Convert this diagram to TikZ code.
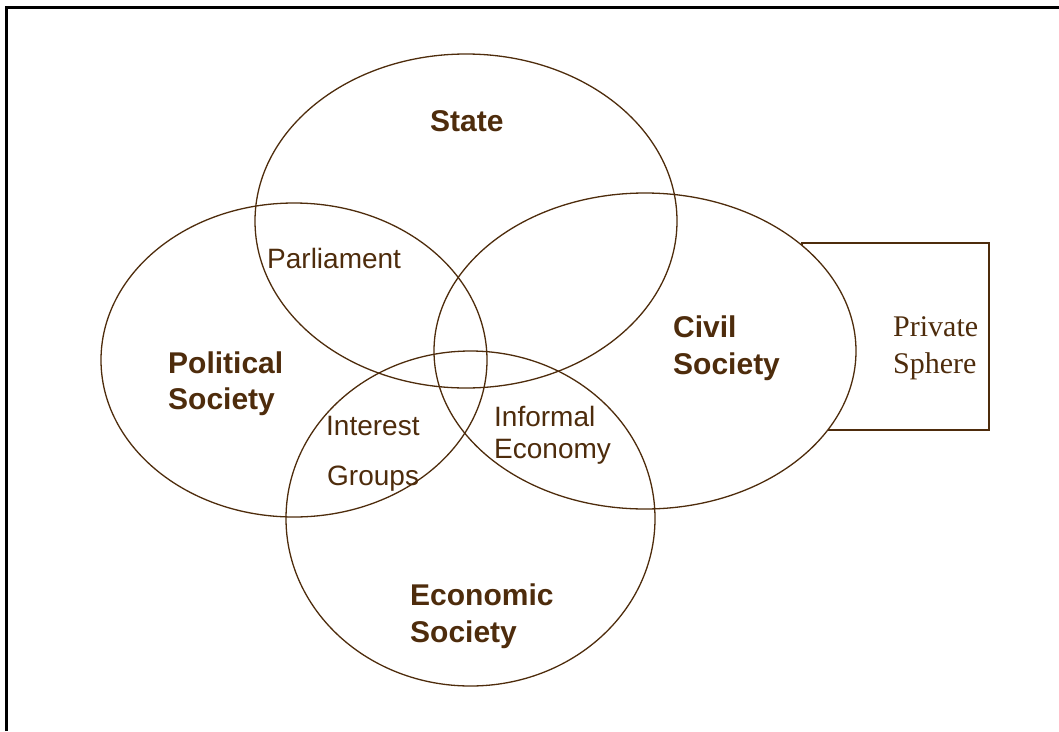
\documentclass[tikz,border=0pt]{standalone}
\usepackage{fontspec}
\setmainfont{Liberation Sans}
\newfontfamily\serifface{Liberation Serif}
\definecolor{brownline}{RGB}{78,44,12}
\tikzset{
  circ/.style={draw=brownline, line width=1.3pt},
  boldlbl/.style={anchor=base west, inner sep=0pt, text=brownline, font=\fontsize{30}{32}\selectfont\bfseries},
  plainlbl/.style={anchor=base west, inner sep=0pt, text=brownline, font=\fontsize{28}{32}\selectfont},
  seriflbl/.style={anchor=base west, inner sep=0pt, text=brownline, font=\fontsize{30}{36}\selectfont\serifface},
}
\begin{document}
\begin{tikzpicture}[x=1pt,y=-1pt]
\useasboundingbox (0,0) rectangle (1059,731);
% frame
\draw[black, line width=2.5pt] (6.5,731) -- (6.5,7.5) -- (1059,7.5);
% private sphere box
\draw[circ, fill=white] (802,243) rectangle (989,430);
% ellipses
\draw[circ, fill=white] (645,351) ellipse [x radius=211, y radius=158];
\draw[circ] (466,221) ellipse [x radius=211, y radius=167];
\draw[circ] (294,360) ellipse [x radius=193, y radius=157];
\draw[circ] (470.5,518.5) ellipse [x radius=184.5, y radius=167.5];
% labels
\node[boldlbl] (state) at (430,131) {State};
\node[plainlbl] (parl) at (267,268) {Parliament};
\node[boldlbl] (pol1) at (168,373) {Political};
\node[boldlbl] (pol2) at (168,409) {Society};
\node[boldlbl] (civ1) at (673,337) {Civil};
\node[boldlbl] (civ2) at (673,374) {Society};
\node[plainlbl] (int1) at (326,435) {Interest};
\node[plainlbl] (int2) at (327,485) {Groups};
\node[plainlbl] (inf1) at (494,426) {Informal};
\node[plainlbl] (inf2) at (494,458) {Economy};
\node[boldlbl] (eco1) at (410,605) {Economic};
\node[boldlbl] (eco2) at (410,642) {Society};
\node[seriflbl] (priv1) at (893,336) {Private};
\node[seriflbl] (priv2) at (893,373) {Sphere};
\end{tikzpicture}
\end{document}
